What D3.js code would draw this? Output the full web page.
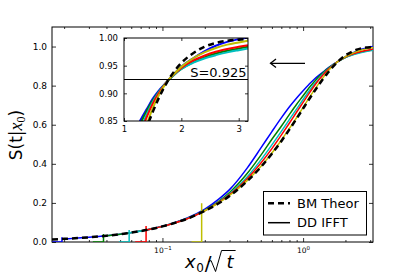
<!DOCTYPE html>
<html>
<head>
<meta charset="utf-8">
<script src="https://cdn.jsdelivr.net/npm/d3@7"></script>
<style>
body { margin: 0; background: #fff; }
text { font-family: "DejaVu Sans", sans-serif; }
</style>
</head>
<body>
<svg id="paper"></svg>
<script>
// x0/sqrt(t) sample points, shared by all curves
const xGrid = [0.0164, 0.02, 0.025, 0.03, 0.04, 0.05, 0.06, 0.07, 0.08, 0.1, 0.12, 0.15,
    0.2, 0.25, 0.3, 0.4, 0.5, 0.6, 0.7, 0.8, 0.9, 1.0, 1.1, 1.2, 1.3, 1.4, 1.5, 1.6,
    1.75, 1.9, 2.0, 2.2, 2.4, 2.6, 2.8, 3.0, 3.16];

const bmTheor = [0.013, 0.016, 0.020, 0.024, 0.032, 0.040, 0.048, 0.056, 0.064, 0.080, 0.096, 0.119,
    0.159, 0.197, 0.236, 0.311, 0.383, 0.452, 0.516, 0.576, 0.632, 0.683, 0.729, 0.770, 0.806, 0.839, 0.866, 0.890,
    0.920, 0.943, 0.955, 0.972, 0.984, 0.991, 0.995, 0.997, 0.998];

const ddBlue = [null, 0.016, 0.020, 0.024, 0.032, 0.040, 0.048, 0.056, 0.064, 0.081, 0.098, 0.123,
    0.168, 0.218, 0.268, 0.378, 0.480, 0.565, 0.635, 0.692, 0.737, 0.774, 0.806, 0.833, 0.854, 0.872, 0.890, 0.904,
    0.921, 0.938, 0.948, 0.963, 0.976, 0.986, 0.993, 0.998, 1.001];
const ddGreen = [null, null, null, null, 0.032, 0.040, 0.048, 0.056, 0.064, 0.080, 0.096, 0.120,
    0.163, 0.207, 0.253, 0.350, 0.443, 0.526, 0.592, 0.653, 0.705, 0.748, 0.788, 0.820, 0.848, 0.869, 0.887, 0.902,
    0.921, 0.936, 0.944, 0.956, 0.965, 0.972, 0.977, 0.981, 0.984];
const ddCyan = [null, null, null, null, null, null, 0.048, 0.056, 0.064, 0.080, 0.096, 0.120,
    0.161, 0.203, 0.246, 0.333, 0.419, 0.497, 0.566, 0.627, 0.681, 0.729, 0.771, 0.807, 0.837, 0.863, 0.884, 0.901,
    0.921, 0.936, 0.944, 0.955, 0.963, 0.969, 0.974, 0.978, 0.981];
const ddRed = [null, null, null, null, null, null, null, null, 0.064, 0.080, 0.096, 0.119,
    0.160, 0.201, 0.242, 0.324, 0.403, 0.478, 0.547, 0.609, 0.665, 0.714, 0.759, 0.798, 0.831, 0.858, 0.881, 0.899,
    0.921, 0.937, 0.946, 0.959, 0.968, 0.975, 0.980, 0.984, 0.987];
const ddYellow = [null, null, null, null, null, null, null, null, null, null, null, null,
    0.160, 0.199, 0.238, 0.314, 0.386, 0.455, 0.521, 0.581, 0.637, 0.689, 0.736, 0.777, 0.813, 0.845, 0.873, 0.895,
    0.921, 0.938, 0.948, 0.963, 0.974, 0.982, 0.988, 0.992, 0.995];

// where each IFFT curve begins: flat at zero, then a spike
const ddSeries = [ddBlue, ddGreen, ddCyan, ddRed, ddYellow];
const ddColors = ["#0000ff", "#008000", "#00bfbf", "#ff0000", "#bfbf00"];
const footX = [0.0165, 0.032, 0.049, 0.064, 0.161];
const startX = [0.0193, 0.0381, 0.058, 0.0765, 0.19];
const startS = [0.016, 0.031, 0.047, 0.061, 0.152];
const spikeTop = [0.024, 0.041, 0.061, 0.082, 0.198];

const xMajor = [0.1, 1];
const xMinor = [0.02, 0.03, 0.04, 0.05, 0.06, 0.07, 0.08, 0.09,
    0.2, 0.3, 0.4, 0.5, 0.6, 0.7, 0.8, 0.9, 2, 3];
const yTicks = [0, 0.2, 0.4, 0.6, 0.8, 1.0];
const insetXTicks = [1, 2, 3];
const insetYTicks = [0.85, 0.90, 0.95, 1.00];
const crossLevel = 0.925;
const legendLabels = ["BM Theor", "DD IFFT"];

let W = 415, H = 277;
let svg = d3.select("#paper").attr("width", W).attr("height", H);
svg.append("rect").attr("width", W).attr("height", H).attr("fill", "#fff");

let x = d3.scaleLog().domain([0.0164, 3.14]).range([52, 373]);
let y = d3.scaleLinear().domain([0, 1.1]).range([242, 27]);

let xi = d3.scaleLinear().domain([1, 3.162]).range([124, 248]);
let yi = d3.scaleLinear().domain([0.85, 1.0]).range([121, 38]);

let defs = svg.append("defs");
defs.append("clipPath").attr("id", "clip-main").append("rect")
    .attr("x", 52).attr("y", 27).attr("width", 321).attr("height", 215);
defs.append("clipPath").attr("id", "clip-inset").append("rect")
    .attr("x", 124).attr("y", 38).attr("width", 124).attr("height", 83);

function bodyPoints(k) {
    let pts = [{x: startX[k], s: startS[k]}];
    ddSeries[k].forEach((v, i) => {
        if (v !== null && xGrid[i] > startX[k]) pts.push({x: xGrid[i], s: v});
    });
    return pts;
}
function headPoints(k) {
    return [{x: footX[k], s: 0}, {x: startX[k], s: 0},
        {x: startX[k], s: spikeTop[k]}, {x: startX[k], s: startS[k]}];
}
let bmPoints = xGrid.map((v, i) => ({x: v, s: bmTheor[i]}));

// ---- main axes frame and ticks
function styleAxis(g) {
    g.select(".domain").remove();
    g.selectAll(".tick line").attr("stroke", "#000").attr("stroke-width", 0.8);
    g.selectAll("text").attr("fill", "#000").attr("font-family", "DejaVu Sans");
}

svg.append("g").attr("transform", "translate(0,242)")
    .call(d3.axisBottom(x).tickValues(xMinor).tickSize(-2).tickFormat(""))
    .call(styleAxis);
svg.append("g").attr("transform", "translate(0,27)")
    .call(d3.axisTop(x).tickValues(xMinor).tickSize(-2).tickFormat(""))
    .call(styleAxis);
svg.append("g").attr("transform", "translate(0,27)")
    .call(d3.axisTop(x).tickValues(xMajor).tickSize(-4).tickFormat(""))
    .call(styleAxis);
let xb = svg.append("g").attr("transform", "translate(0,242)")
    .call(d3.axisBottom(x).tickValues(xMajor).tickSize(-4).tickPadding(6).tickFormat(""))
    .call(styleAxis);
xb.selectAll(".tick text").attr("font-size", 7.5)
    .each(function (d) {
        let t = d3.select(this);
        t.text("10");
        t.append("tspan").attr("font-size", 5.5).attr("dy", -3.2)
            .text(Math.round(Math.log10(d)) === 0 ? "0" : "\u22121");
    });

svg.append("g").attr("transform", "translate(52,0)")
    .call(d3.axisLeft(y).tickValues(yTicks).tickSize(-4).tickPadding(5).tickFormat(d3.format(".1f")))
    .call(styleAxis)
    .selectAll("text").attr("font-size", 9);
svg.append("g").attr("transform", "translate(373,0)")
    .call(d3.axisRight(y).tickValues(yTicks).tickSize(-4).tickFormat(""))
    .call(styleAxis);

svg.append("rect").attr("x", 52).attr("y", 27).attr("width", 321).attr("height", 215)
    .attr("fill", "none").attr("stroke", "#000").attr("stroke-width", 1);

// ---- main curves
let lineMain = d3.line().x(d => x(d.x)).y(d => y(d.s)).curve(d3.curveMonotoneX);
let lineHead = d3.line().x(d => x(d.x)).y(d => y(d.s));
let gMain = svg.append("g").attr("clip-path", "url(#clip-main)");

ddSeries.forEach((s, k) => {
    gMain.append("path").datum(headPoints(k)).attr("d", lineHead)
        .attr("fill", "none").attr("stroke", ddColors[k]).attr("stroke-width", 1.5);
    gMain.append("path").datum(bodyPoints(k)).attr("d", lineMain)
        .attr("fill", "none").attr("stroke", ddColors[k]).attr("stroke-width", 1.5);
});
gMain.append("path").datum(bmPoints).attr("d", lineMain)
    .attr("fill", "none").attr("stroke", "#000").attr("stroke-width", 2.5)
    .attr("stroke-dasharray", "6,4");

// ---- inset
svg.append("rect").attr("x", 124).attr("y", 38).attr("width", 124).attr("height", 83)
    .attr("fill", "#fff");
let lineInset = d3.line().x(d => xi(d.x)).y(d => yi(d.s)).curve(d3.curveMonotoneX);
let gIn = svg.append("g").attr("clip-path", "url(#clip-inset)");
ddSeries.forEach((s, k) => {
    gIn.append("path").datum(bodyPoints(k)).attr("d", lineInset)
        .attr("fill", "none").attr("stroke", ddColors[k]).attr("stroke-width", 2);
});
gIn.append("path").datum(bmPoints).attr("d", lineInset)
    .attr("fill", "none").attr("stroke", "#000").attr("stroke-width", 2.5)
    .attr("stroke-dasharray", "6,4");
gIn.append("line").attr("x1", 124).attr("x2", 248)
    .attr("y1", yi(crossLevel)).attr("y2", yi(crossLevel))
    .attr("stroke", "#000").attr("stroke-width", 1);
svg.append("text").attr("x", 246.5).attr("y", yi(crossLevel) - 2.5)
    .attr("text-anchor", "end").attr("font-size", 13).text("S=" + crossLevel);

svg.append("g").attr("transform", "translate(0,121)")
    .call(d3.axisBottom(xi).tickValues(insetXTicks).tickSize(-3).tickPadding(5).tickFormat(d3.format("d")))
    .call(styleAxis)
    .selectAll("text").attr("font-size", 8.5);
svg.append("g").attr("transform", "translate(0,38)")
    .call(d3.axisTop(xi).tickValues(insetXTicks).tickSize(-3).tickFormat(""))
    .call(styleAxis);
svg.append("g").attr("transform", "translate(124,0)")
    .call(d3.axisLeft(yi).tickValues(insetYTicks).tickSize(-3).tickPadding(6).tickFormat(d3.format(".2f")))
    .call(styleAxis)
    .selectAll("text").attr("font-size", 8.5);
svg.append("g").attr("transform", "translate(248,0)")
    .call(d3.axisRight(yi).tickValues(insetYTicks).tickSize(-3).tickFormat(""))
    .call(styleAxis);
svg.append("rect").attr("x", 124).attr("y", 38).attr("width", 124).attr("height", 83)
    .attr("fill", "none").attr("stroke", "#000").attr("stroke-width", 1);

// ---- arrow
let arrow = svg.append("g").attr("stroke", "#000").attr("stroke-width", 1.3).attr("fill", "none");
arrow.append("line").attr("x1", 305).attr("x2", 270.5).attr("y1", 63.3).attr("y2", 63.3);
arrow.append("path").attr("d", "M276,59 L270.5,63.3 L276,67.6");

// ---- legend
let lg = svg.append("g");
lg.append("rect").attr("x", 263.5).attr("y", 191.5).attr("width", 103).attr("height", 43.5)
    .attr("fill", "#fff").attr("stroke", "#000").attr("stroke-width", 1);
lg.append("line").attr("x1", 268).attr("x2", 290).attr("y1", 203.3).attr("y2", 203.3)
    .attr("stroke", "#000").attr("stroke-width", 2.5).attr("stroke-dasharray", "6,4");
lg.append("line").attr("x1", 268).attr("x2", 290).attr("y1", 222.7).attr("y2", 222.7)
    .attr("stroke", "#000").attr("stroke-width", 1.5);
lg.selectAll("text.lab").data(legendLabels).enter().append("text")
    .attr("x", 297).attr("y", (d, i) => 208.2 + i * 19.2)
    .attr("font-size", 13).text(d => d);

// ---- axis labels
let xl = svg.append("text").attr("x", 185).attr("y", 268.3)
    .attr("font-family", "Liberation Serif").attr("font-size", 18);
xl.append("tspan").attr("font-style", "italic").text("x");
xl.append("tspan").attr("font-size", 12).attr("dx", 0.5).attr("dy", 3.2).text("0");
xl.append("tspan").attr("font-size", 20).attr("dx", 1).attr("dy", -1.5).text("/");
xl.append("tspan").attr("font-style", "italic").attr("dx", 15).attr("dy", -1.7).text("t");
let xlNode = xl.node();
let tStart = xlNode.getStartPositionOfChar(3).x;
let tEnd = xlNode.getEndPositionOfChar(3).x;
svg.append("path")
    .attr("d", "M" + (tStart - 18.5) + ",262 L" + (tStart - 15.5) + ",260.5 L" + (tStart - 11) +
        ",271.5 L" + (tStart - 5) + ",250.5 L" + (tEnd + 2) + ",250.5")
    .attr("fill", "none").attr("stroke", "#000").attr("stroke-width", 1);

let yl = svg.append("text").attr("transform", "translate(22,135) rotate(-90)")
    .attr("text-anchor", "middle").attr("font-size", 17);
yl.append("tspan").attr("font-family", "DejaVu Sans").text("S(t|");
yl.append("tspan").attr("font-family", "Liberation Serif").attr("font-style", "italic")
    .attr("font-size", 18).text("x");
yl.append("tspan").attr("font-family", "Liberation Serif").attr("font-size", 12)
    .attr("dy", 3).text("0");
yl.append("tspan").attr("font-family", "DejaVu Sans").attr("dy", -3).text(")");
</script>
</body>
</html>
